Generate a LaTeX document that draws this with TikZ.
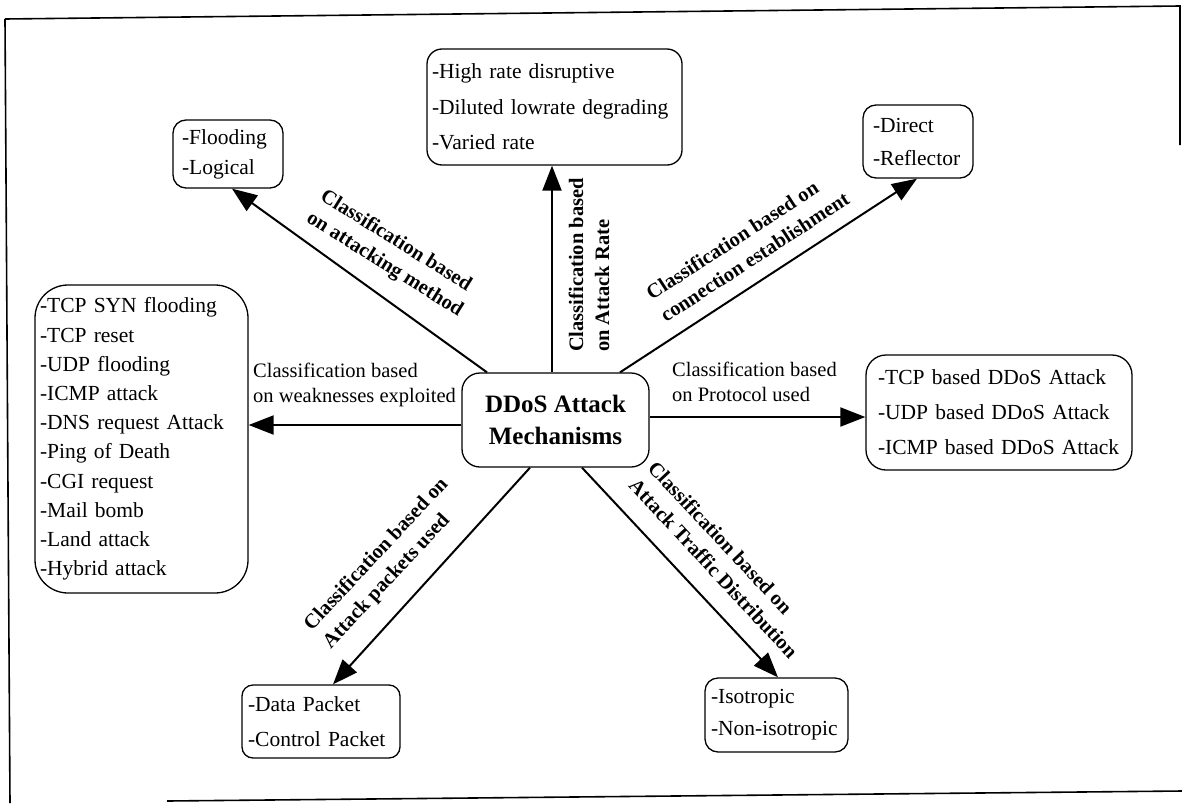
\documentclass[tikz,border=0pt]{standalone}
\usepackage{fontspec}
\setmainfont{Liberation Serif}
\usetikzlibrary{arrows.meta}
\begin{document}
\begin{tikzpicture}[x=1pt,y=-1pt,
  listbox/.style={draw, line width=1.3pt, align=left, inner ysep=0pt},
  mainbox/.style={draw, line width=1.3pt, rounded corners=18pt, align=center,
    font=\bfseries\fontsize{25}{32}\selectfont, minimum width=187pt, minimum height=94pt, inner sep=0pt},
  blab/.style={font=\bfseries\fontsize{20.5}{26}\selectfont, align=left, inner sep=0pt, anchor=west},
  hlab/.style={font=\fontsize{20.5}{25}\selectfont, align=left, inner sep=0pt, anchor=west},
  arr/.style={line width=2pt, -{Triangle[length=25pt,width=19pt]}},
  outline/.style={line width=1.6pt}
]
\useasboundingbox (0,0) rectangle (1182,803);

% frame
\draw[outline] (5,19) -- (1180,6) -- (1180,145);
\draw[outline] (5,19) -- (10,803);
\draw[outline] (167,801) -- (1182,791);

% nodes
\node[mainbox] (c) at (555.5,420) {DDoS Attack\\Mechanisms};

\node[listbox, rounded corners=13pt, font=\fontsize{21.5}{30}\selectfont, inner xsep=9pt,
  text width=92pt, minimum width=110pt, minimum height=68pt] (flood) at (228,154)
  {-Flooding\\-Logical};

\node[listbox, rounded corners=15pt, font=\fontsize{21.5}{35.5}\selectfont, inner xsep=5pt,
  text width=245pt, minimum width=255pt, minimum height=116pt] (rate) at (554.5,107)
  {-High rate disruptive\\-Diluted lowrate degrading\\-Varied rate};

\node[listbox, rounded corners=13pt, font=\fontsize{21.5}{33}\selectfont, inner xsep=10pt,
  text width=90pt, minimum width=110pt, minimum height=73pt] (direct) at (918,141.5)
  {-Direct\\-Reflector};

\node[listbox, rounded corners=33pt, font=\fontsize{21.5}{29.2}\selectfont, inner xsep=5pt,
  text width=203pt, minimum width=213pt, minimum height=308pt] (weak) at (141.5,439)
  {-TCP SYN flooding\\-TCP reset\\-UDP flooding\\-ICMP attack\\-DNS request Attack\\-Ping of Death\\-CGI request\\-Mail bomb\\-Land attack\\-Hybrid attack};

\node[listbox, rounded corners=20pt, font=\fontsize{21.5}{35}\selectfont, inner xsep=12pt,
  text width=242pt, minimum width=266pt, minimum height=115pt] (proto) at (999,412.5)
  {-TCP based DDoS Attack\\-UDP based DDoS Attack\\-ICMP based DDoS Attack};

\node[listbox, rounded corners=11pt, font=\fontsize{21.5}{35}\selectfont, inner xsep=6pt,
  text width=146pt, minimum width=158pt, minimum height=73pt] (data) at (321,721.5)
  {-Data Packet\\-Control Packet};

\node[listbox, rounded corners=13pt, font=\fontsize{21.5}{32}\selectfont, inner xsep=6pt,
  text width=131pt, minimum width=143pt, minimum height=74pt] (iso) at (776.5,715)
  {-Isotropic\\-Non-isotropic};

% connectors
\draw[arr] ([xshift=-68.5pt]c.north) -- ([xshift=4pt]flood.south);
\draw[arr] ([xshift=-3.5pt]c.north) -- ([xshift=-2.5pt]rate.south);
\draw[arr] ([xshift=64.5pt]c.north) -- ([xshift=-1pt]direct.south);
\draw[arr] ([yshift=3pt]c.east) -- ([yshift=-4.5pt]proto.west);
\draw[arr] ([yshift=-5pt]c.west) -- ([yshift=14pt]weak.east);
\draw[arr] ([xshift=-25.5pt]c.south) -- ([xshift=12pt]data.north);
\draw[arr] ([xshift=26.5pt]c.south) -- ([xshift=1.5pt]iso.north);

% labels
\node[blab, rotate=-32] (l1) at (315,206) {Classification based\\on attacking method};
\node[blab, rotate=90] (l2) at (589,352) {Classification based\\on Attack Rate};
\node[blab, rotate=33] (l3) at (655,306) {Classification based on\\connection establishment};
\node[hlab] (l4) at (672,382) {Classification based\\on Protocol used};
\node[hlab] (l5) at (253,385) {Classification based\\on weaknesses exploited};
\node[blab, rotate=47] (l6) at (317.5,637) {Classification based on\\Attack packets used};
\node[blab, rotate=-47] (l7) at (642.5,473) {Classification based on\\Attack Traffic Distribution};
\end{tikzpicture}
\end{document}
